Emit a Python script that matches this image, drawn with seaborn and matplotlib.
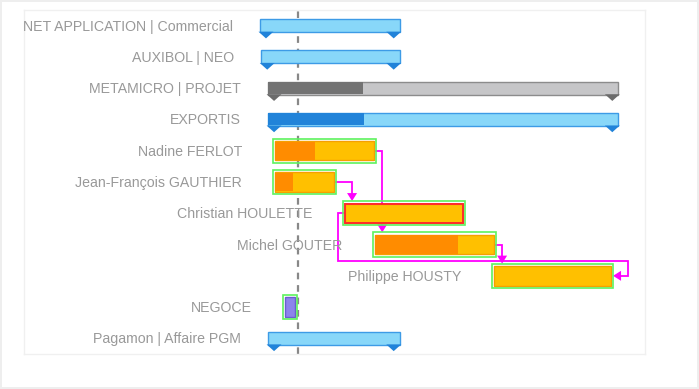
"""
Gantt view: projects, tasks and dependencies
"""

import numpy as np
import pandas as pd
import matplotlib
matplotlib.use("Agg")
import matplotlib.pyplot as plt
import matplotlib.transforms as mtransforms
import seaborn as sns

# ── Data (x in days from the left edge of the view) ───────────────────────────
labels = ["NET APPLICATION | Commercial", "AUXIBOL | NEO", "METAMICRO | PROJET",
          "EXPORTIS", "Nadine FERLOT", "Jean-François GAUTHIER",
          "Christian HOULETTE", "Michel GOUTER", "Philippe HOUSTY",
          "NEGOCE", "Pagamon | Affaire PGM"]
kinds = ["project", "project", "project_gray", "project", "task", "task",
         "task", "task", "task", "negoce", "project"]
starts = [38.0, 38.2, 39.3, 39.3, 40.4, 40.4, 51.7, 56.5, 75.7, 42.0, 39.3]
ends = [60.5, 60.5, 95.7, 95.7, 56.4, 49.9, 70.7, 75.7, 94.5, 43.6, 60.5]
completed = [0.0, 0.0, 0.27, 0.275, 0.40, 0.30, 0.0, 0.70, 0.0, 0.0, 0.0]
today = 44.1
x_range = (0, 100)

# finish -> start dependencies, plus one start -> finish link
deps_fs = [("Nadine FERLOT", "Michel GOUTER"),
           ("Jean-François GAUTHIER", "Christian HOULETTE"),
           ("Michel GOUTER", "Philippe HOUSTY")]
deps_sf = [("Christian HOULETTE", "Philippe HOUSTY")]

# ── Styles ────────────────────────────────────────────────────────────────────
STYLE = {
    "project":      dict(base="#88d7f9", done="#2183d9", edge="#3d9be6", mark="#2183d9", h=0.42, lab=-27),
    "project_gray": dict(base="#c6c6c8", done="#737373", edge="#8c8c8c", mark="#6b6b6b", h=0.42, lab=-27),
    "task":         dict(base="#ffc000", done="#ff8c00", edge="#f5a000", mark=None, h=0.62, lab=-33),
    "negoce":       dict(base="#8c84ec", done="#8c84ec", edge="#6a5fd0", mark=None, h=0.62, lab=-33),
}
LINK = "#ff00ff"
SELECT = "#5ef25e"

sns.set_theme(style="white")
plt.rcParams["font.family"] = ["Liberation Sans", "DejaVu Sans"]

W, H = 699, 389
fig = plt.figure(figsize=(W / 100, H / 100), dpi=100)
fig.patch.set_edgecolor("#eeeeee")
fig.patch.set_linewidth(1.5)
ax = fig.add_axes([24 / W, 35 / H, 621 / W, 344 / H])
ax.set_xlim(*x_range)
ax.set_ylim(len(labels) - 0.5, -0.5)
ax.set_xticks([]); ax.set_yticks([])
for s in ax.spines.values():
    s.set_color("#f0f0f0"); s.set_linewidth(1)

# pixel -> data unit factors
px = (x_range[1] - x_range[0]) / 621.0
py = len(labels) / 344.0

row = {lab: i for i, lab in enumerate(labels)}

# ── Today line ────────────────────────────────────────────────────────────────
ax.axvline(today, color="#888888", lw=1.6, dashes=(3, 2.6), zorder=1)

# ── Bars ──────────────────────────────────────────────────────────────────────
marks = []
for i, (lab, k, s, e, c) in enumerate(zip(labels, kinds, starts, ends, completed)):
    st = STYLE[k]
    h = st["h"]
    ax.barh(i, e - s, left=s, height=h, color=st["base"],
            edgecolor=st["edge"], lw=1, zorder=3)
    if c > 0:
        ax.barh(i, (e - s) * c, left=s, height=h - 1.2 * py, color=st["done"],
                lw=0, zorder=3.5)
    if lab == "Christian HOULETTE":
        ax.barh(i, e - s, left=s, height=h, color="none",
                edgecolor="#ff2a2a", lw=1.4, zorder=4)
    if k in ("task", "negoce"):
        ax.add_patch(plt.Rectangle((s - 2.2 * px, i - h / 2 - 2.5 * py),
                                   (e - s) + 4.4 * px, h + 5 * py,
                                   fill=False, edgecolor=SELECT, lw=1.2, zorder=4))
    if st["mark"]:
        for xm in (s + 6 * px, e - 6 * px):
            marks.append(dict(x=xm, y=i + h / 2 - 0.5 * py, kind=k))
    # label to the left of the bar
    off = mtransforms.offset_copy(ax.transData, fig=fig, x=st["lab"], y=-1, units="dots")
    ax.text(s, i, lab, transform=off, ha="right", va="center",
            fontsize=10.2, color="#999999", clip_on=True, zorder=5)

# milestone triangles under project bars
mk = pd.DataFrame(marks)
sns.scatterplot(data=mk, x="x", y="y", hue="kind",
                palette={k: STYLE[k]["mark"] for k in mk.kind.unique()},
                marker=[(-1, 0), (1, 0), (0, -0.9)], s=115, linewidth=0,
                legend=False, ax=ax, zorder=4)
ax.set_xlabel(""); ax.set_ylabel("")


def arrow_head(xt, yt, direction):
    """filled triangle with its tip at (xt, yt)"""
    L, Wd = 8, 5
    if direction == "down":
        pts = [(xt, yt), (xt - Wd * px, yt - L * py), (xt + Wd * px, yt - L * py)]
    else:  # pointing left
        pts = [(xt, yt), (xt + L * px, yt - Wd * py), (xt + L * px, yt + Wd * py)]
    ax.fill(*zip(*pts), color=LINK, lw=0, zorder=2.5)


# ── Dependency links ─────────────────────────────────────────────────────────
for a, b in deps_fs:
    ia, ib = row[a], row[b]
    hb = STYLE[kinds[ib]]["h"]
    xa = ends[ia]
    xv = max(ends[ia] + 8 * px, starts[ib] + 7 * px)
    ytip = ib - hb / 2 - 2.5 * py
    ax.plot([xa, xv, xv], [ia, ia, ytip - 6 * py], color=LINK, lw=1.3,
            zorder=2, solid_joinstyle="miter")
    arrow_head(xv, ytip, "down")

for a, b in deps_sf:
    ia, ib = row[a], row[b]
    x0 = starts[ia]
    x1 = x0 - 7 * px
    ymid = ib - 0.47
    x2 = ends[ib] + 17 * px
    xtip = ends[ib] + 2.2 * px
    ax.plot([x0, x1, x1, x2, x2, xtip + 6 * px], [ia, ia, ymid, ymid, ib, ib],
            color=LINK, lw=1.3, zorder=2, solid_joinstyle="miter")
    arrow_head(xtip, ib, "left")

plt.savefig("out.png", dpi=100)
plt.close()
